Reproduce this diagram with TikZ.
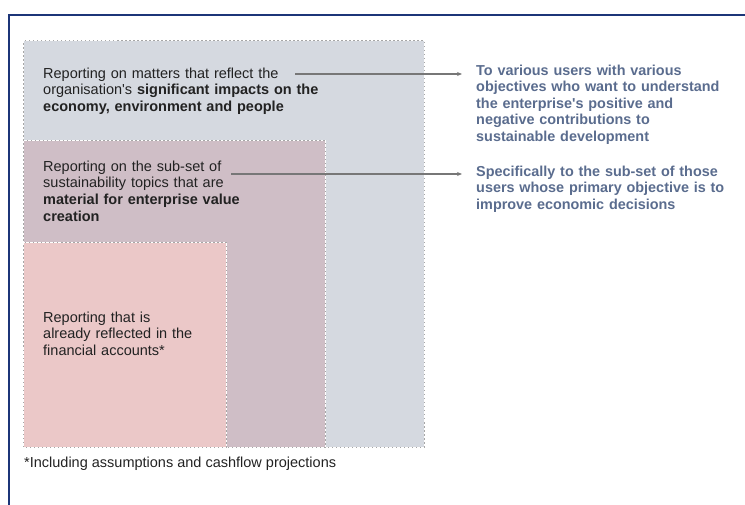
\documentclass[tikz,border=0pt]{standalone}
\usepackage{fontspec}
\setmainfont{Liberation Sans}
\usepackage{tikz}
\usetikzlibrary{arrows.meta,positioning}

\definecolor{frameblue}{HTML}{1C3578}
\definecolor{impactgrey}{HTML}{D5D9E0}
\definecolor{materialmauve}{HTML}{CFBEC6}
\definecolor{financepink}{HTML}{EBC8C8}
\definecolor{usertext}{HTML}{5A6C8E}
\definecolor{linkgrey}{HTML}{777777}
\definecolor{bodytext}{HTML}{222222}

\begin{document}
\begin{tikzpicture}[x=1pt,y=-1pt]
			\tikzstyle{Frame}	= [draw=frameblue, line width=2.2pt]
			\tikzstyle{Edge}	= [draw=gray!70, line width=1pt]
			\tikzstyle{Dash}	= [draw=white, dash pattern=on 2.5pt off 1.5pt, line width=1pt]
			\tikzstyle{Body}	= [anchor=north west, inner sep=0pt, align=left, text=bodytext,
									font=\fontsize{14.5}{16.6}\selectfont]
			\tikzstyle{Users}	= [Body, text=usertext, font=\fontsize{14.4}{16.6}\selectfont\bfseries]
			\tikzstyle{Link}	= [draw=linkgrey, line width=1.2pt, -{Stealth[length=5pt,width=4pt]}, shorten >=14pt]

			\useasboundingbox (0,0) rectangle (745,505);
			\draw [Frame] (9,506) |- (746,15);

			% nested scopes of reporting, widest first
			\foreach \right/\top/\shade in {424/41/impactgrey, 325/141/materialmauve, 226/243/financepink}{
				\fill [\shade] (23,\top) rectangle (\right,447);
				\draw [Edge] (23,\top) rectangle (\right,447);
				\draw [Dash] (23,\top) rectangle (\right,447);
			}

			\node (impact) at (43,67.5) [Body, text width=300pt]
				{Reporting on matters that reflect the\\organisation\textquotesingle s \textbf{significant impacts on the}\\\textbf{economy, environment and people}};
			\node (material) at (43,160.5) [Body, text width=240pt]
				{Reporting on the sub-set of\\sustainability topics that are\\\textbf{material for enterprise value}\\\textbf{creation}};
			\node (finance) at (43,311.5) [Body, text width=170pt]
				{Reporting that is\\already reflected in the\\financial accounts*};

			\node (allusers) at (476,64.5) [Users, text width=265pt]
				{To various users with various\\objectives who want to understand\\the enterprise\textquotesingle s positive and\\negative contributions to\\sustainable development};
			\node (investors) at (476,165.5) [Users, text width=265pt]
				{Specifically to the sub-set of those\\users whose primary objective is to\\improve economic decisions};

			\node (note) at (24,456.5) [Body]
				{*Including assumptions and cashflow projections};

			\coordinate (impactend) at (295,74);
			\coordinate (materialend) at (231,174);
			\draw [Link] (impactend) to (impactend -| allusers.west);
			\draw [Link] (materialend) to (materialend -| investors.west);
		\end{tikzpicture}
\end{document}
